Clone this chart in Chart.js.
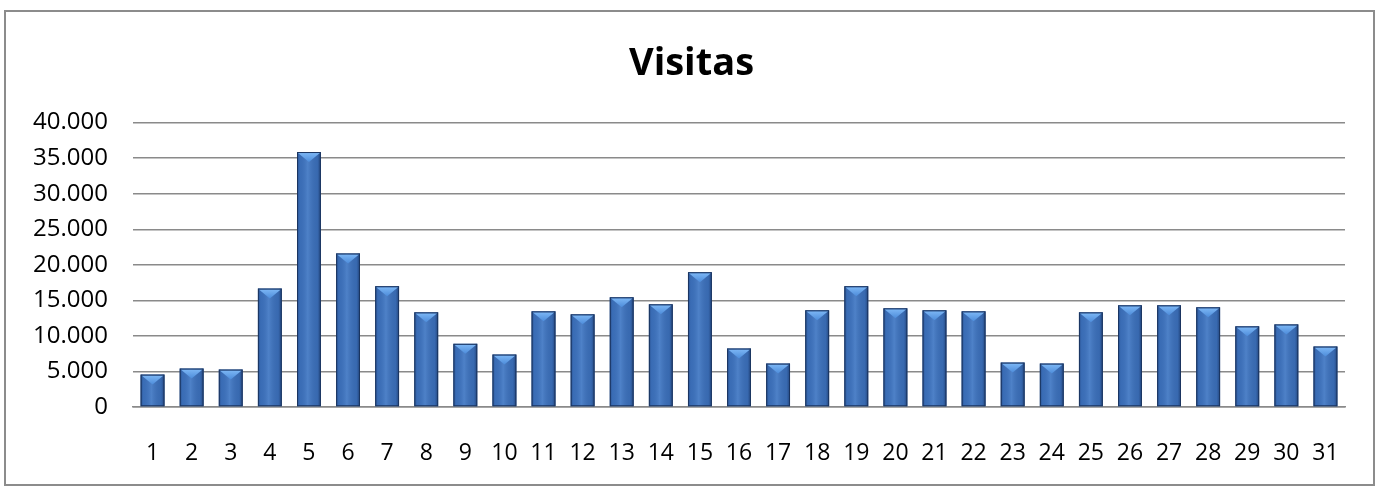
<!DOCTYPE html>
<html>
<head>
<meta charset="utf-8">
<script src="https://cdn.jsdelivr.net/npm/chart.js@4"></script>
<style>
  html, body { margin: 0; padding: 0; background: #fff; }
  #wrap { width: 1383px; height: 487px; position: relative; }
</style>
</head>
<body>
<div id="wrap"><canvas id="visitasChart" width="1383" height="487"></canvas></div>
<script>
// dias del mes
const dias = ['1','2','3','4','5','6','7','8','9','10','11','12','13','14','15','16',
  '17','18','19','20','21','22','23','24','25','26','27','28','29','30','31'];

// visitas por dia
const visitas = [4560, 5410, 5270, 16660, 35860, 21600, 16990, 13310, 8890, 7380,
  13450, 13030, 15430, 14440, 18960, 8230, 6110, 13600, 16990, 13880,
  13600, 13450, 6250, 6110, 13310, 14300, 14300, 14020, 11340, 11620, 8510];

const yTicks = [0, 5000, 10000, 15000, 20000, 25000, 30000, 35000, 40000];

function fmtMiles(v) {
  return String(v).replace(/\B(?=(\d{3})+(?!\d))/g, '.');
}

// marco gris alrededor del grafico
const marco = {
  id: 'marco',
  beforeDraw(chart) {
    const c = chart.ctx;
    c.save();
    c.strokeStyle = '#8c8c8c';
    c.lineWidth = 2;
    c.strokeRect(5, 11, 1369, 474);
    c.restore();
  }
};

// brillo de las barras: degradado horizontal y triangulo arriba
const brillo = {
  id: 'brillo',
  afterDatasetsDraw(chart) {
    const c = chart.ctx;
    const meta = chart.getDatasetMeta(0);
    c.save();
    meta.data.forEach(bar => {
      const w = bar.width;
      const l = bar.x - w / 2, r = bar.x + w / 2;
      const top = bar.y, bot = bar.base;
      const g = c.createLinearGradient(l, 0, r, 0);
      g.addColorStop(0, 'rgba(20,45,90,0.55)');
      g.addColorStop(0.12, 'rgba(40,80,150,0.1)');
      g.addColorStop(0.45, 'rgba(120,170,235,0.3)');
      g.addColorStop(0.85, 'rgba(30,60,115,0.12)');
      g.addColorStop(1, 'rgba(15,35,75,0.6)');
      c.fillStyle = g;
      c.fillRect(l, top, w, bot - top);
      // triangulo claro
      const d = Math.min(10, (bot - top) / 2);
      const tg = c.createLinearGradient(0, top, 0, top + d);
      tg.addColorStop(0, '#80baf7');
      tg.addColorStop(1, '#4d8cda');
      c.fillStyle = tg;
      c.beginPath();
      c.moveTo(l + 1, top + 1);
      c.lineTo(r - 1, top + 1);
      c.lineTo(bar.x, top + d);
      c.closePath();
      c.fill();
      c.strokeStyle = '#1b3560';
      c.lineWidth = 1;
      c.strokeRect(l + 0.5, top + 0.5, w - 1, bot - top - 1);
    });
    c.restore();
  }
};

const ctx = document.getElementById('visitasChart').getContext('2d');
new Chart(ctx, {
  type: 'bar',
  data: {
    labels: dias,
    datasets: [{
      label: 'Visitas',
      data: visitas,
      backgroundColor: '#3c70b9',
      borderWidth: 0,
      barPercentage: 0.61,
      categoryPercentage: 1
    }]
  },
  options: {
    responsive: false,
    animation: false,
    layout: { padding: { top: 41, right: 0, bottom: 0, left: 0 } },
    plugins: {
      legend: { display: false },
      tooltip: { enabled: false },
      title: {
        display: true,
        text: 'Visitas',
        color: '#000',
        font: { family: 'Open Sans', size: 38, weight: 'bold' },
        padding: { top: 0, bottom: 36 }
      }
    },
    scales: {
      x: {
        afterFit(scale) { scale.height = 80; },
        grid: { display: false, drawTicks: false },
        border: { display: true, color: '#8a8a8a', width: 1.5 },
        ticks: { color: '#000', font: { family: 'Open Sans', size: 23 }, padding: 33, maxRotation: 0, autoSkip: false }
      },
      y: {
        min: 0,
        max: 40000,
        afterFit(scale) { scale.width = 133; },
        afterBuildTicks(scale) { scale.ticks = yTicks.map(v => ({ value: v })); },
        grid: { color: '#8a8a8a', lineWidth: 1.5, drawTicks: false },
        border: { display: false },
        ticks: {
          color: '#000',
          font: { family: 'Open Sans', size: 24 },
          padding: 25,
          callback: v => fmtMiles(v)
        }
      },
      // margen derecho vacio, para que el titulo quede centrado
      yDer: {
        position: 'right',
        min: 0,
        max: 40000,
        afterFit(scale) { scale.width = 38; },
        grid: { display: false, drawTicks: false },
        border: { display: false },
        ticks: { display: false }
      }
    }
  },
  plugins: [marco, brillo]
});
</script>
</body>
</html>
